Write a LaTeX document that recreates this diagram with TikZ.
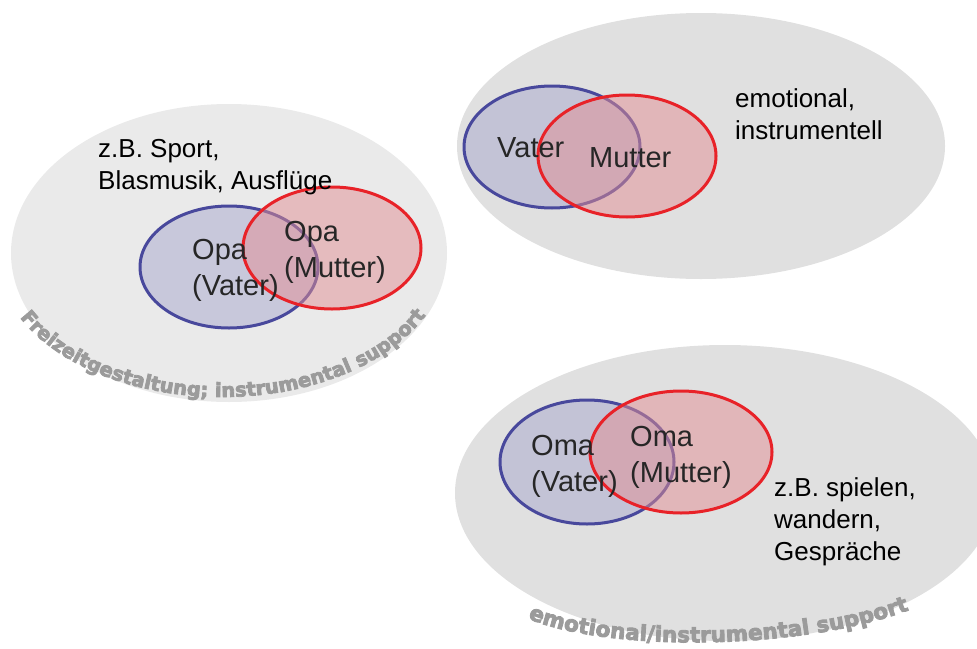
\documentclass[tikz,border=0pt]{standalone}
\usepackage{fontspec}
\setmainfont{Liberation Sans}
\newfontfamily\arcfont{DejaVu Sans}[BoldFeatures={FakeBold=4}]
\usetikzlibrary{shapes.geometric, decorations.text}

\definecolor{bggray}{RGB}{224,224,224}
\definecolor{bglight}{RGB}{234,234,234}
\definecolor{vblue}{RGB}{72,72,156}
\definecolor{vbluefill}{RGB}{168,168,206}
\definecolor{mred}{RGB}{232,34,40}
\definecolor{mredfill}{RGB}{226,142,148}
\definecolor{labelgray}{RGB}{38,38,38}
\definecolor{arcgray}{RGB}{155,155,155}

\tikzset{
  field/.style={ellipse, inner sep=0pt, fill=bggray},
  vaterset/.style={ellipse, inner sep=0pt, draw=vblue, line width=3pt, fill=vbluefill, fill opacity=0.5, minimum width=178pt, minimum height=122pt},
  mutterset/.style={ellipse, inner sep=0pt, draw=mred, line width=3pt, fill=mredfill, fill opacity=0.5, minimum width=178pt, minimum height=122pt},
  who/.style={anchor=base west, inner sep=0pt, align=left, text=labelgray, font=\fontsize{29}{36}\selectfont},
  what/.style={anchor=base west, inner sep=0pt, align=left, font=\fontsize{26}{32}\selectfont},
  arclabel/.style 2 args={decorate, decoration={text along path, text align=center, text color=arcgray,
      text={|\arcfont\bfseries\fontsize{#1}{#1}\selectfont|#2}}}
}

\begin{document}
\begin{tikzpicture}[x=1pt, y=-1pt]
  \clip (0,0) rectangle (977,648);

  % the three fields
  \node[field, fill=bglight, minimum width=436pt, minimum height=298pt] (fieldOpa) at (229,253) {};
  \node[field, minimum width=488pt, minimum height=266pt] (fieldEltern) at (701,146) {};
  \node[field, minimum width=540pt, minimum height=296pt] (fieldOma) at (725,493) {};

  % curved captions
  \path[arclabel={19.5}{Freizeitgestaltung; instrumental support}]
    plot[domain=0:131, samples=60, variable=\t] ({222+225*cos(155-\t)},{255+142*sin(155-\t)});
  \path[arclabel={21.5}{emotional/instrumental support}]
    (525,617) .. controls (600,652) and (800,652) .. (912,609);

  % Opa
  \node[vaterset] (opaV) at (229,267) {};
  \node[mutterset] (opaM) at (332,248) {};
  \node[what] (freizeit) at (98,189) {z.B. Sport,\\Blasmusik, Ausflüge};
  \node[who] (opaVtext) at (192,295) {Opa\\(Vater)};
  \node[who] (opaMtext) at (284,277) {Opa\\(Mutter)};

  % Eltern
  \node[vaterset, minimum width=176pt] (vater) at (552,147) {};
  \node[mutterset] (mutter) at (627,156) {};
  \node[who] (vatertext) at (497,157) {Vater};
  \node[who] (muttertext) at (589,167) {Mutter};
  \node[what] (eltern) at (735,139) {emotional,\\instrumentell};

  % Oma
  \node[vaterset, minimum width=174pt, minimum height=124pt] (omaV) at (587,462) {};
  \node[mutterset, minimum width=182pt] (omaM) at (681,452) {};
  \node[who] (omaVtext) at (531,491) {Oma\\(Vater)};
  \node[who] (omaMtext) at (630,482) {Oma\\(Mutter)};
  \node[what] (oma) at (774,560) {z.B. spielen,\\wandern,\\Gespräche};
\end{tikzpicture}
\end{document}
